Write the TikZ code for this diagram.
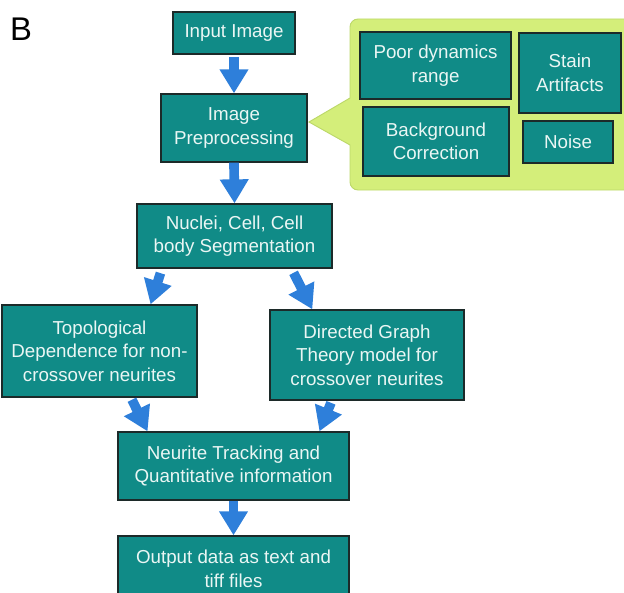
\documentclass[tikz,border=0pt]{standalone}
\usepackage{fontspec}
\setmainfont{Liberation Sans}
\usepackage{xcolor}
\usepackage{tikz}
\usetikzlibrary{calc,arrows.meta}
\definecolor{tealbox}{HTML}{108B87}
\definecolor{boxline}{HTML}{1C2A29}
\definecolor{boxtext}{HTML}{EAF6F4}
\definecolor{limefill}{HTML}{D4EE7A}
\definecolor{limeline}{HTML}{BCD869}
\definecolor{flowblue}{HTML}{2E7FDA}

\begin{document}
\begin{tikzpicture}[x=0.03cm,y=-0.03cm,
  box/.style={draw=boxline,line width=1.1pt,fill=tealbox,text=boxtext,align=center,
    font=\fontsize{16}{20}\selectfont,inner sep=0pt},
  blockarrow/.style={flowblue,line width=0.29cm,-{Triangle[length=0.72cm,width=0.82cm]}}]
\clip (0,0) rectangle (624,592);
\node[font=\fontsize{28}{30}\selectfont] (panel) at (21,29) {B};
% main flow
\node[box,minimum width=3.66cm,minimum height=1.26cm] (input) at (234,33) {Input Image};
\node[box,minimum width=4.38cm,minimum height=2.04cm] (prep) at (234,128) {Image\\Preprocessing};
\node[box,minimum width=5.85cm,minimum height=1.92cm] (nuclei) at (234.5,236) {Nuclei, Cell, Cell\\body Segmentation};
\node[box,minimum width=5.85cm,minimum height=2.76cm] (topo) at (99.5,351) {Topological\\Dependence for non-\\crossover neurites};
\node[box,minimum width=5.82cm,minimum height=2.70cm] (graph) at (367,355) {Directed Graph\\Theory model for\\crossover neurites};
\node[box,minimum width=6.93cm,minimum height=2.04cm] (track) at (233.5,466) {Neurite Tracking and\\Quantitative information};
\node[box,minimum width=6.93cm,minimum height=1.98cm] (output) at (233.5,569) {Output data as text and\\tiff files};
% callout with preprocessing issues
\draw[fill=limefill,draw=limeline,line width=0.8pt] (309,122) -- (350,98) [rounded corners=0.24cm] -- (350,19) -- (650,19) -- (650,190) -- (350,190) [sharp corners] -- (350,145) -- cycle;
\node[box,minimum width=4.53cm,minimum height=2.01cm] (poor) at (435.5,65.5) {Poor dynamics\\range};
\node[box,minimum width=3.06cm,minimum height=2.40cm] (stain) at (570,73) {Stain\\Artifacts};
\node[box,minimum width=4.38cm,minimum height=2.07cm] (bg) at (436,141.5) {Background\\Correction};
\node[box,minimum width=2.70cm,minimum height=1.26cm] (noise) at (568,142) {Noise};
% arrows
\draw[blockarrow,shorten <=2pt] (input.south) -- (prep.north);
\draw[blockarrow] (prep.south) -- (nuclei.north);
\draw[blockarrow,shorten <=4pt] ($(nuclei.south west)!0.13!(nuclei.south east)$) -- ($(topo.north west)!0.76!(topo.north east)$);
\draw[blockarrow,shorten <=4pt] ($(nuclei.south west)!0.79!(nuclei.south east)$) -- ($(graph.north west)!0.22!(graph.north east)$);
\draw[blockarrow,shorten <=2pt] ($(topo.south west)!0.66!(topo.south east)$) -- ($(track.north west)!0.13!(track.north east)$);
\draw[blockarrow,shorten <=2pt] ($(graph.south west)!0.32!(graph.south east)$) -- ($(track.north west)!0.87!(track.north east)$);
\draw[blockarrow] (track.south) -- (output.north);
\end{tikzpicture}
\end{document}
